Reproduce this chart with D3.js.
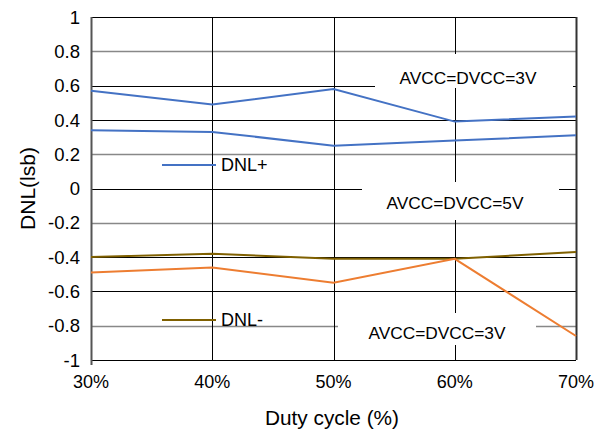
<!DOCTYPE html>
<html lang="en">
<head>
  <meta charset="UTF-8">
  <title>DNL vs duty cycle</title>
  <script src="https://cdn.jsdelivr.net/npm/d3@7/dist/d3.min.js"></script>
  <style>
    html, body { margin: 0; background: #fff; }
    text { font-family: 'Liberation Sans', Arial, sans-serif; fill: #000; }
  </style>
</head>
<body>
  <script>
    // 画布大小
    const width = 608
    const height = 433
    const margin = { left: 91, right: 32, top: 17, bottom: 73 }

    // 源数据
    const categories = ['30%', '40%', '50%', '60%', '70%']
    const dnlPlus3V = [0.57, 0.49, 0.58, 0.39, 0.42]
    const dnlPlus5V = [0.34, 0.33, 0.25, 0.28, 0.31]
    const dnlMinus5V = [-0.40, -0.38, -0.41, -0.41, -0.37]
    const dnlMinus3V = [-0.49, -0.46, -0.55, -0.41, -0.86]
    const yTicks = [1, 0.8, 0.6, 0.4, 0.2, 0, -0.2, -0.4, -0.6, -0.8, -1]
    const grayTicks = [0.8, 0.2, -0.2, -0.8]

    const svg = d3.select('body').append('svg')
      .attr('width', width)
      .attr('height', height)

    const x = d3.scalePoint()
      .domain(categories)
      .range([margin.left, width - margin.right])

    const y = d3.scaleLinear()
      .domain([-1, 1])
      .range([height - margin.bottom, margin.top])

    // 网格线
    svg.append('g').selectAll('line')
      .data(yTicks)
      .join('line')
      .attr('x1', margin.left)
      .attr('x2', width - margin.right)
      .attr('y1', d => Math.round(y(d)) + 0.5)
      .attr('y2', d => Math.round(y(d)) + 0.5)
      .attr('stroke', d => grayTicks.includes(d) ? '#888' : '#000')
      .attr('stroke-width', d => grayTicks.includes(d) ? 1.6 : 1)

    svg.append('g').selectAll('line')
      .data(categories.slice(1))
      .join('line')
      .attr('x1', d => Math.round(x(d)) + 0.5)
      .attr('x2', d => Math.round(x(d)) + 0.5)
      .attr('y1', y(1))
      .attr('y2', y(-1))
      .attr('stroke', d => d === '70%' ? '#333' : '#000')
      .attr('stroke-width', d => d === '70%' ? 2 : 1)

    // 注释（白底）
    const notes = [
      { text: 'AVCC=DVCC=3V', tx: 468, ty: 77.5, bx: 375, by: 54, bw: 198, bh: 34 },
      { text: 'AVCC=DVCC=5V', tx: 455, ty: 203, bx: 362, by: 182, bw: 197, bh: 38 },
      { text: 'AVCC=DVCC=3V', tx: 437, ty: 333, bx: 338, by: 313, bw: 198, bh: 32 }
    ]
    const ng = svg.append('g')
    ng.selectAll('rect')
      .data(notes)
      .join('rect')
      .attr('x', d => d.bx)
      .attr('y', d => d.by)
      .attr('width', d => d.bw)
      .attr('height', d => d.bh)
      .attr('fill', '#fff')
    ng.selectAll('text')
      .data(notes)
      .join('text')
      .attr('x', d => d.tx)
      .attr('y', d => d.ty)
      .attr('dy', '0.36em')
      .attr('text-anchor', 'middle')
      .style('font-size', '17.3px')
      .text(d => d.text)

    // 坐标轴
    svg.append('line')
      .attr('x1', margin.left).attr('x2', width - margin.right)
      .attr('y1', y(-1) + 0.5).attr('y2', y(-1) + 0.5)
      .attr('stroke', '#000')
    svg.append('line')
      .attr('x1', margin.left + 0.5).attr('x2', margin.left + 0.5)
      .attr('y1', y(1)).attr('y2', y(-1) + 5)
      .attr('stroke', '#555').attr('stroke-width', 2)

    svg.append('g').selectAll('text')
      .data(yTicks)
      .join('text')
      .attr('x', 80)
      .attr('y', d => y(d))
      .attr('dy', '0.36em')
      .attr('text-anchor', 'end')
      .style('font-size', '18.5px')
      .text(d => d)

    svg.append('g').selectAll('text')
      .data(categories)
      .join('text')
      .attr('x', d => x(d))
      .attr('y', 387.5)
      .attr('text-anchor', 'middle')
      .style('font-size', '18px')
      .text(d => d)

    svg.append('text')
      .attr('x', 332).attr('y', 425)
      .attr('text-anchor', 'middle')
      .style('font-size', '20.8px')
      .text('Duty cycle (%)')

    svg.append('text')
      .attr('transform', `translate(27, ${y(0)}) rotate(-90)`)
      .attr('dy', '0.36em')
      .attr('text-anchor', 'middle')
      .style('font-size', '21px')
      .text('DNL(lsb)')

    // 折线
    const series = [
      { values: dnlPlus3V, color: '#4472C4' },
      { values: dnlPlus5V, color: '#4472C4' },
      { values: dnlMinus5V, color: '#7F6000' },
      { values: dnlMinus3V, color: '#ED7D31' }
    ]
    const line = d3.line()
      .x((d, i) => x(categories[i]))
      .y(d => y(d))

    svg.append('g').selectAll('path')
      .data(series)
      .join('path')
      .attr('d', d => line(d.values))
      .attr('fill', 'none')
      .attr('stroke', d => d.color)
      .attr('stroke-width', 2)

    // 图例
    const legend = [
      { label: 'DNL+', color: '#4472C4', cy: 165 },
      { label: 'DNL-', color: '#7F6000', cy: 320 }
    ]
    const lg = svg.append('g')
    lg.selectAll('line')
      .data(legend)
      .join('line')
      .attr('x1', 162).attr('x2', 216)
      .attr('y1', d => d.cy).attr('y2', d => d.cy)
      .attr('stroke', d => d.color)
      .attr('stroke-width', 2)
    lg.selectAll('text')
      .data(legend)
      .join('text')
      .attr('x', 221)
      .attr('y', d => d.cy)
      .attr('dy', '0.36em')
      .style('font-size', '18px')
      .text(d => d.label)
  </script>
</body>
</html>
